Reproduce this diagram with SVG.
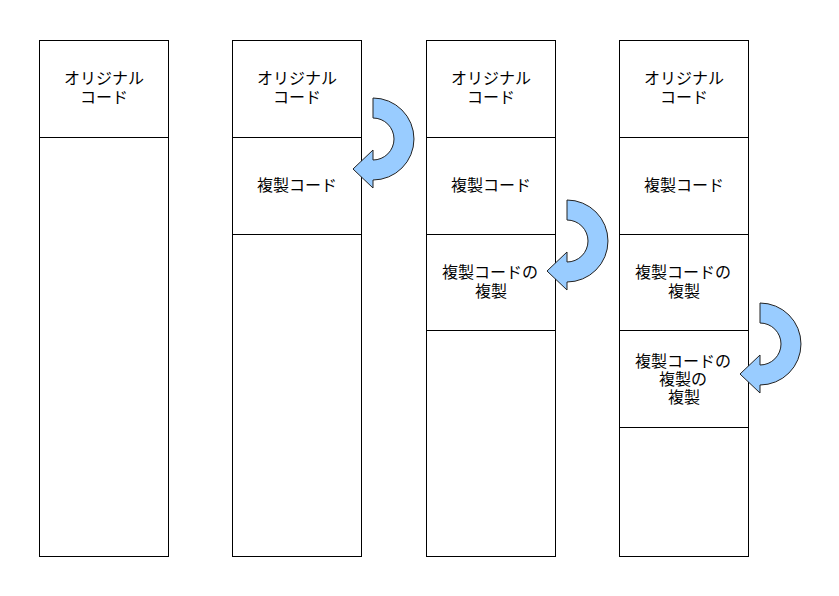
<svg xmlns="http://www.w3.org/2000/svg" width="839" height="596" viewBox="0 0 839 596">
<defs>
<style>
.box{fill:#fff;stroke:#000;stroke-width:1}
.div{stroke:#000;stroke-width:1}
.t{font-family:"Noto Sans CJK JP","Liberation Sans",sans-serif;font-size:16px;fill:#000;text-anchor:middle}
.arr{fill:#99CCFF;stroke:#222;stroke-width:1}
</style>
<path id="curl" d="M 373,98 A 41,41 0 0 1 373,180 L 373,188 L 353,169 L 373,150 L 373,160 A 21,21 0 0 0 373,118 Z"/>
</defs>
<rect width="839" height="596" fill="#fff"/>
<g id="col1">
<rect class="box" x="39.5" y="40.5" width="129" height="516"/>
<line class="div" x1="39.5" y1="137.5" x2="168.5" y2="137.5"/>
<text class="t" x="104" y="84">オリジナル<tspan x="104" dy="19">コード</tspan></text>
</g>
<g id="col2">
<rect class="box" x="232.5" y="40.5" width="129" height="516"/>
<line class="div" x1="232.5" y1="137.5" x2="361.5" y2="137.5"/>
<line class="div" x1="232.5" y1="234.5" x2="361.5" y2="234.5"/>
<text class="t" x="297" y="84">オリジナル<tspan x="297" dy="19">コード</tspan></text>
<text class="t" x="297" y="191">複製コード</text>
</g>
<g id="col3">
<rect class="box" x="426.5" y="40.5" width="129" height="516"/>
<line class="div" x1="426.5" y1="137.5" x2="555.5" y2="137.5"/>
<line class="div" x1="426.5" y1="234.5" x2="555.5" y2="234.5"/>
<line class="div" x1="426.5" y1="330.5" x2="555.5" y2="330.5"/>
<text class="t" x="491" y="84">オリジナル<tspan x="491" dy="19">コード</tspan></text>
<text class="t" x="491" y="191">複製コード</text>
<text class="t" x="490" y="278">複製コードの<tspan x="491" dy="19">複製</tspan></text>
</g>
<g id="col4">
<rect class="box" x="619.5" y="40.5" width="129" height="516"/>
<line class="div" x1="619.5" y1="137.5" x2="748.5" y2="137.5"/>
<line class="div" x1="619.5" y1="234.5" x2="748.5" y2="234.5"/>
<line class="div" x1="619.5" y1="330.5" x2="748.5" y2="330.5"/>
<line class="div" x1="619.5" y1="427.5" x2="748.5" y2="427.5"/>
<text class="t" x="684" y="84">オリジナル<tspan x="684" dy="19">コード</tspan></text>
<text class="t" x="684" y="191">複製コード</text>
<text class="t" x="683" y="278">複製コードの<tspan x="684" dy="19">複製</tspan></text>
<text class="t" x="683" y="367">複製コードの<tspan x="683" dy="18">複製の</tspan><tspan x="684" dy="18">複製</tspan></text>
</g>
<g id="connectors">
<use href="#curl" class="arr"/>
<use href="#curl" class="arr" transform="translate(194,102)"/>
<use href="#curl" class="arr" transform="translate(387,205)"/>
</g>
</svg>
